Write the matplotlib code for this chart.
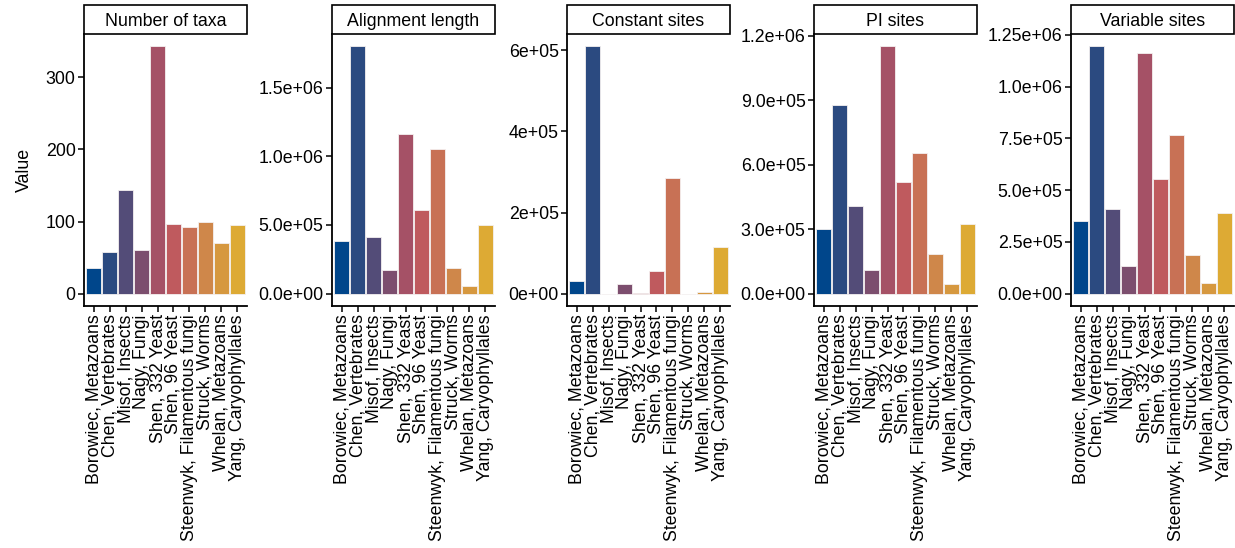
#!/usr/bin/env python3
"""Per-dataset alignment summary stats, one bar panel per metric."""

import matplotlib

matplotlib.use("Agg")
import matplotlib.pyplot as plt
from matplotlib.patches import Rectangle
from matplotlib.ticker import FixedLocator, FixedFormatter

plt.rcParams["font.family"] = ["Liberation Sans", "DejaVu Sans"]

DATASETS = [
    "Borowiec, Metazoans",
    "Chen, Vertebrates",
    "Misof, Insects",
    "Nagy, Fungi",
    "Shen, 332 Yeast",
    "Shen, 96 Yeast",
    "Steenwyk, Filamentous fungi",
    "Struck, Worms",
    "Whelan, Metazoans",
    "Yang, Caryophyllales",
]
COLORS = ["#00468b", "#2b4a80", "#534c78", "#7c4e6e", "#a55166",
          "#bf5a5e", "#c87155", "#cf874a", "#d6983f", "#ddaa34"]

METRICS = ["Number of taxa", "Alignment length", "Constant sites", "PI sites", "Variable sites"]

n_taxa = [36, 58, 144, 60, 343, 96, 93, 100, 70, 95]
aln_length = [385000, 1800000, 412000, 171000, 1159000, 607000, 1051000, 188000, 59000, 502000]
constant_sites = [31500, 610000, 0, 23000, 2500, 55500, 286000, 0, 5000, 114500]
pi_sites = [300000, 875000, 408000, 108000, 1150000, 521000, 654000, 186000, 44000, 324000]
variable_sites = [351000, 1195000, 411000, 135000, 1161000, 553000, 767000, 187000, 50000, 388000]

VALUES = [n_taxa, aln_length, constant_sites, pi_sites, variable_sites]

YTICKS = [
    [0, 100, 200, 300],
    [0, 5e5, 1e6, 1.5e6],
    [0, 2e5, 4e5, 6e5],
    [0, 3e5, 6e5, 9e5, 1.2e6],
    [0, 2.5e5, 5e5, 7.5e5, 1e6, 1.25e6],
]
YTICKLABELS = [
    ["0", "100", "200", "300"],
    ["0.0e+00", "5.0e+05", "1.0e+06", "1.5e+06"],
    ["0e+00", "2e+05", "4e+05", "6e+05"],
    ["0.0e+00", "3.0e+05", "6.0e+05", "9.0e+05", "1.2e+06"],
    ["0.0e+00", "2.5e+05", "5.0e+05", "7.5e+05", "1.0e+06", "1.25e+06"],
]

W, H = 1235, 548
LEFTS = [84, 332, 567, 814, 1071]
AX_W = 163
AX_TOP = 34
AX_BOTTOM = 306
STRIP_H = 29
FS = 12.8


def main() -> None:
    fig = plt.figure(figsize=(W / 100, H / 100), dpi=100)
    x = list(range(len(DATASETS)))
    for i, (title, vals) in enumerate(zip(METRICS, VALUES)):
        ax = fig.add_axes([LEFTS[i] / W, 1 - AX_BOTTOM / H, AX_W / W, (AX_BOTTOM - AX_TOP) / H])
        ax.bar(x, vals, width=0.9, color=COLORS, edgecolor="#f4f0f0", linewidth=0.6)
        vmax = max(vals)
        ax.set_ylim(-0.05 * vmax, 1.05 * vmax)
        ax.set_xlim(-0.6, len(DATASETS) - 0.4)
        ax.yaxis.set_major_locator(FixedLocator(YTICKS[i]))
        ax.yaxis.set_major_formatter(FixedFormatter(YTICKLABELS[i]))
        ax.set_xticks(x)
        ax.set_xticklabels(DATASETS, rotation=90, ha="center", va="top")
        for side in ["top", "right"]:
            ax.spines[side].set_visible(False)
        for side in ["left", "bottom"]:
            ax.spines[side].set_linewidth(1.3)
        ax.tick_params(axis="both", direction="out", length=4, width=1.1,
                       labelsize=FS, colors="black", pad=2)
        # facet strip
        sh = STRIP_H / (AX_BOTTOM - AX_TOP)
        ax.add_patch(Rectangle((0, 1), 1, sh, transform=ax.transAxes, clip_on=False,
                               facecolor="white", edgecolor="black", linewidth=1.2))
        ax.text(0.5, 1 + sh / 2 - 0.008, title, transform=ax.transAxes, ha="center",
                va="center", fontsize=FS)
        if i == 0:
            ax.set_ylabel("Value", fontsize=FS, labelpad=9)
    fig.savefig("out.png", dpi=100)
    plt.close(fig)


if __name__ == "__main__":
    main()
